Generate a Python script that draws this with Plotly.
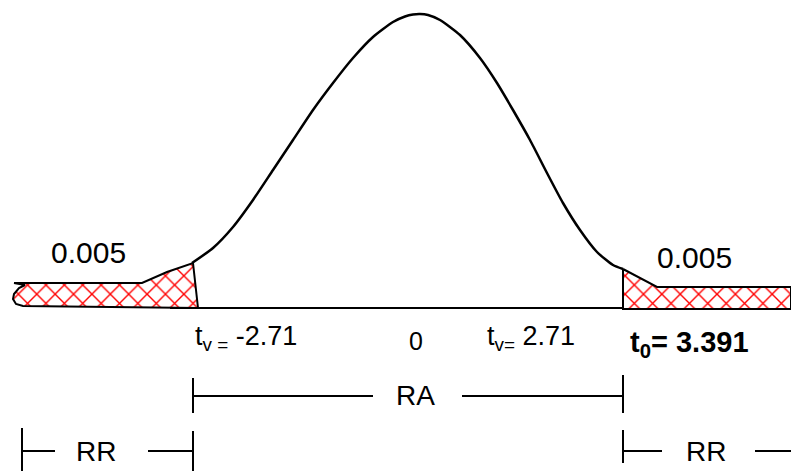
import plotly.graph_objects as go

# diagram units: x goes 0..791 left to right, y goes 0..471 top to bottom
# bell curve, from the left cut (t = -2.71) to the right cut (t = 2.71)
curve_x = [192, 213, 233, 253, 273, 293, 313, 333, 353, 373, 393, 405, 413, 420, 428,
           440, 460, 480, 497, 513, 530, 547, 563, 580, 597, 613, 623]
curve_y = [263, 248, 227, 200, 170, 140, 110, 83, 58, 37, 22, 16.5, 14.5, 14, 15,
           20, 35, 58, 83, 110, 140, 173, 203, 230, 252, 265, 269]

# left rejection tail (hatched), outline points
left_tail_x = [14, 142, 167, 193, 198, 23, 16, 13, 14, 19, 25, 14]
left_tail_y = [283, 283, 272, 263, 308, 306, 304, 299, 294, 288, 285, 283]

# right rejection tail (hatched)
right_tail_x = [623, 657, 791, 791, 623, 623]
right_tail_y = [269, 287, 287, 309, 309, 269]

baseline_x = [170, 623]
baseline_y = [308, 308]

# region brackets: (x0, x1, y) for horizontal pieces, (x, y0, y1) for the end ticks
ra_lines = [(193, 373, 396), (462, 623, 396)]
ra_ticks = [(193, 378, 413), (623, 375, 413)]
rr_lines = [(22, 55, 451), (148, 193, 451), (623, 662, 451), (755, 791, 451)]
rr_ticks = [(22, 428, 471), (193, 431, 471), (623, 430, 463)]

alpha_label = "0.005"
t_left = "t<sub>v =</sub> -2.71"
t_right = "t<sub>v=</sub> 2.71"
t_obs = "<b>t<sub>0</sub>= 3.391</b>"

FONT = "Liberation Sans, Arial, sans-serif"

fig = go.Figure()

hatch = dict(shape="x", fgcolor="red", fgopacity=1, bgcolor="white", size=13, solidity=0.2)
for xs, ys in [(left_tail_x, left_tail_y), (right_tail_x, right_tail_y)]:
    fig.add_trace(go.Scatter(x=xs, y=ys, mode="lines", fill="toself",
                             fillcolor="white", fillpattern=hatch,
                             line=dict(color="black", width=2)))

fig.add_trace(go.Scatter(x=baseline_x, y=baseline_y, mode="lines",
                         line=dict(color="black", width=2)))
fig.add_trace(go.Scatter(x=curve_x, y=curve_y, mode="lines",
                         line=dict(color="black", width=2.5, shape="spline", smoothing=0.6)))

# brackets under the axis
for x0, x1, y in ra_lines + rr_lines:
    fig.add_shape(type="line", x0=x0, x1=x1, y0=y, y1=y, line=dict(color="black", width=2))
for x, y0, y1 in ra_ticks + rr_ticks:
    fig.add_shape(type="line", x0=x, x1=x, y0=y0, y1=y1, line=dict(color="black", width=2))

def label(text, x, y, size, anchor="center"):
    fig.add_annotation(x=x, y=y, text=text, showarrow=False, xanchor=anchor,
                       yanchor="middle", font=dict(family=FONT, size=size, color="black"))

label(alpha_label, 88, 252, 30)
label(alpha_label, 694, 257, 30)
label(t_left, 193, 338, 27, "left")
label("0", 416, 341, 25)
label(t_right, 485, 338, 27, "left")
label(t_obs, 628, 344, 29, "left")
label("RA", 415, 395, 28)
label("RR", 96, 451, 28)
label("RR", 706, 451, 28)

fig.update_layout(
    width=791, height=471,
    margin=dict(l=0, r=0, t=0, b=0),
    paper_bgcolor="white", plot_bgcolor="white",
    showlegend=False,
    xaxis=dict(range=[0, 791], visible=False, fixedrange=True),
    yaxis=dict(range=[471, 0], visible=False, fixedrange=True),
)

# the page body has an 8px default margin; drop it so the figure fills the window
fig.write_html("out.html", config={"displayModeBar": False},
               post_script="document.body.style.margin='0';document.body.style.overflow='hidden';")
